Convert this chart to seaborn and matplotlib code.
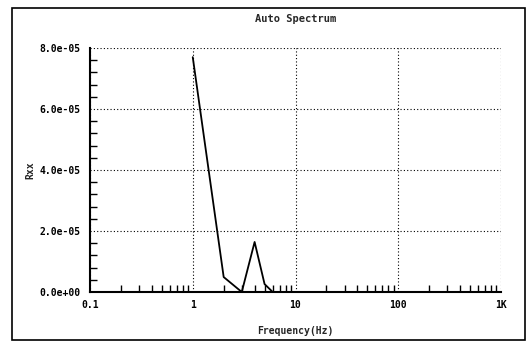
import matplotlib
matplotlib.use("Agg")
import matplotlib.pyplot as plt
import matplotlib.ticker as mticker
import seaborn as sns
import pandas as pd
import numpy as np

# Auto spectrum samples
freq_hz = [1, 2, 3, 4, 5, 6, 7, 8, 9, 10]
rxx = [7.7e-05, 0.49e-05, 0.0, 1.64e-05, 0.26e-05, 0.0, 0.0, 0.0, 0.0, 0.0]

x_ticks = [0.1, 1, 10, 100, 1000]
x_tick_labels = ["0.1", "1", "10", "100", "1K"]
y_ticks = [0.0, 2e-05, 4e-05, 6e-05, 8e-05]

sns.set_theme(style="white")
plt.rcParams["font.family"] = ["DejaVu Sans Mono", "DejaVu Sans"]
plt.rcParams["font.weight"] = "bold"

df = pd.DataFrame({"Frequency": freq_hz, "Rxx": rxx})

fig = plt.figure(figsize=(5.27, 3.43), dpi=100)
ax = fig.add_axes([90 / 527, 1 - 292 / 343, (501 - 90) / 527, (292 - 48) / 343])

sns.lineplot(data=df, x="Frequency", y="Rxx", ax=ax, color="black", linewidth=1.3)

ax.set_xscale("log")
ax.set_xlim(0.1, 1000)
ax.set_ylim(0, 8e-05)

ax.set_xticks(x_ticks)
ax.set_xticklabels(x_tick_labels)
ax.xaxis.set_minor_locator(mticker.LogLocator(base=10, subs=np.arange(2, 10)))
ax.xaxis.set_minor_formatter(mticker.NullFormatter())

ax.set_yticks(y_ticks)
ax.yaxis.set_major_formatter(mticker.FuncFormatter(lambda v, p: f"{v:.1e}"))
ax.yaxis.set_minor_locator(mticker.MultipleLocator(0.4e-05))

ax.grid(True, which="major", color="black", linestyle=(0, (1, 2)), linewidth=0.8)

for side in ["top", "right"]:
    ax.spines[side].set_visible(False)
for side in ["left", "bottom"]:
    ax.spines[side].set_color("black")
    ax.spines[side].set_linewidth(1.5)

ax.tick_params(axis="both", which="major", direction="inout", length=7, width=1,
               color="black", labelsize=7, labelcolor="black")
ax.tick_params(axis="both", which="minor", direction="in", length=5, width=1,
               color="black", left=True, bottom=True)
ax.tick_params(axis="x", which="major", pad=2)
ax.tick_params(axis="y", which="major", pad=3)

for lbl in ax.get_xticklabels() + ax.get_yticklabels():
    lbl.set_fontweight("bold")

ax.set_xlabel("Frequency(Hz)", fontsize=7, fontweight="bold", labelpad=12)
ax.set_ylabel("Rxx", fontsize=7, fontweight="bold", labelpad=3)
ax.set_title("Auto Spectrum", fontsize=7.5, fontweight="bold", pad=19)

# outer frame around the figure
frame = plt.Rectangle((12 / 527, 3 / 343), (525 - 12) / 527, (335 - 3) / 343,
                      transform=fig.transFigure, fill=False, edgecolor="black",
                      linewidth=1.2)
fig.patches.append(frame)

fig.savefig("out.png", dpi=100, facecolor="white")
